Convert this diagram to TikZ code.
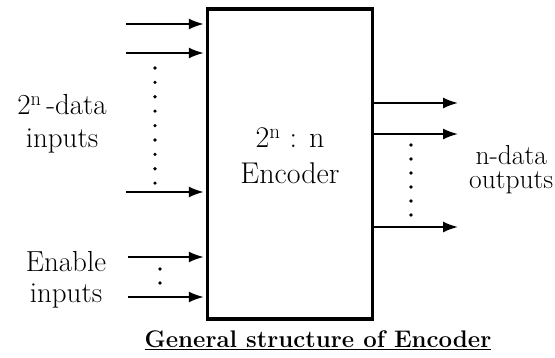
\documentclass[tikz,border=0pt]{standalone}
\usetikzlibrary{arrows.meta,positioning}

\begin{document}
\begin{tikzpicture}[
      x=1pt, y=-1pt,
      lbl/.style={align=center,inner sep=0pt},
      arr/.style={-{Latex[length=15pt,width=11pt]},line width=1.8pt},
      dot/.style={fill=black},
    ]
    \useasboundingbox (0,0) rectangle (555,358);

    \node[draw,line width=3.5pt,minimum width=165pt,minimum height=310pt,inner sep=0pt]
      (enc) at (290,164) {};
    \node[lbl,font={\fontsize{30}{36}\selectfont}] (enctxt) at (290,155.5)
      {2\textsuperscript{n} : n\\Encoder};

    % inputs
    \coordinate (d1) at (126,24);
    \coordinate (d2) at (126,53);
    \coordinate (dn) at (126,192);
    \coordinate (e1) at (128,257);
    \coordinate (en) at (128,297);
    \foreach \p in {d1,d2,dn,e1,en} {
      \draw[arr] (\p) -- ([xshift=-2pt]\p -| enc.west);
    }
    \foreach \i in {0,...,8} {
      \fill[dot] (155,68+14.4*\i) circle (1.8);
    }
    \foreach \y in {269,283} {
      \fill[dot] (160,\y) circle (1.8);
    }

    % outputs
    \coordinate (q1) at (458,103);
    \coordinate (q2) at (458,134);
    \coordinate (qn) at (458,227);
    \foreach \p in {q1,q2,qn} {
      \draw[arr] (\p -| enc.east) -- (\p);
    }
    \foreach \i in {0,...,5} {
      \fill[dot] (411,145+14*\i) circle (1.8);
    }

    \node[lbl,font={\fontsize{29}{33}\selectfont}] (datain) at (62,124)
      {2\textsuperscript{n}\,-data\\inputs};
    \node[lbl,font={\fontsize{29}{31}\selectfont}] (enin) at (66,280)
      {Enable\\inputs};
    \node[lbl,font={\fontsize{27.5}{24}\selectfont},anchor=west] (dataout) at (469,170)
      {n-data\\outputs};

    \node[lbl,font={\fontsize{24}{28}\selectfont\bfseries},anchor=base] (title) at (318,348)
      {\underline{General structure of Encoder}};
  \end{tikzpicture}
\end{document}
